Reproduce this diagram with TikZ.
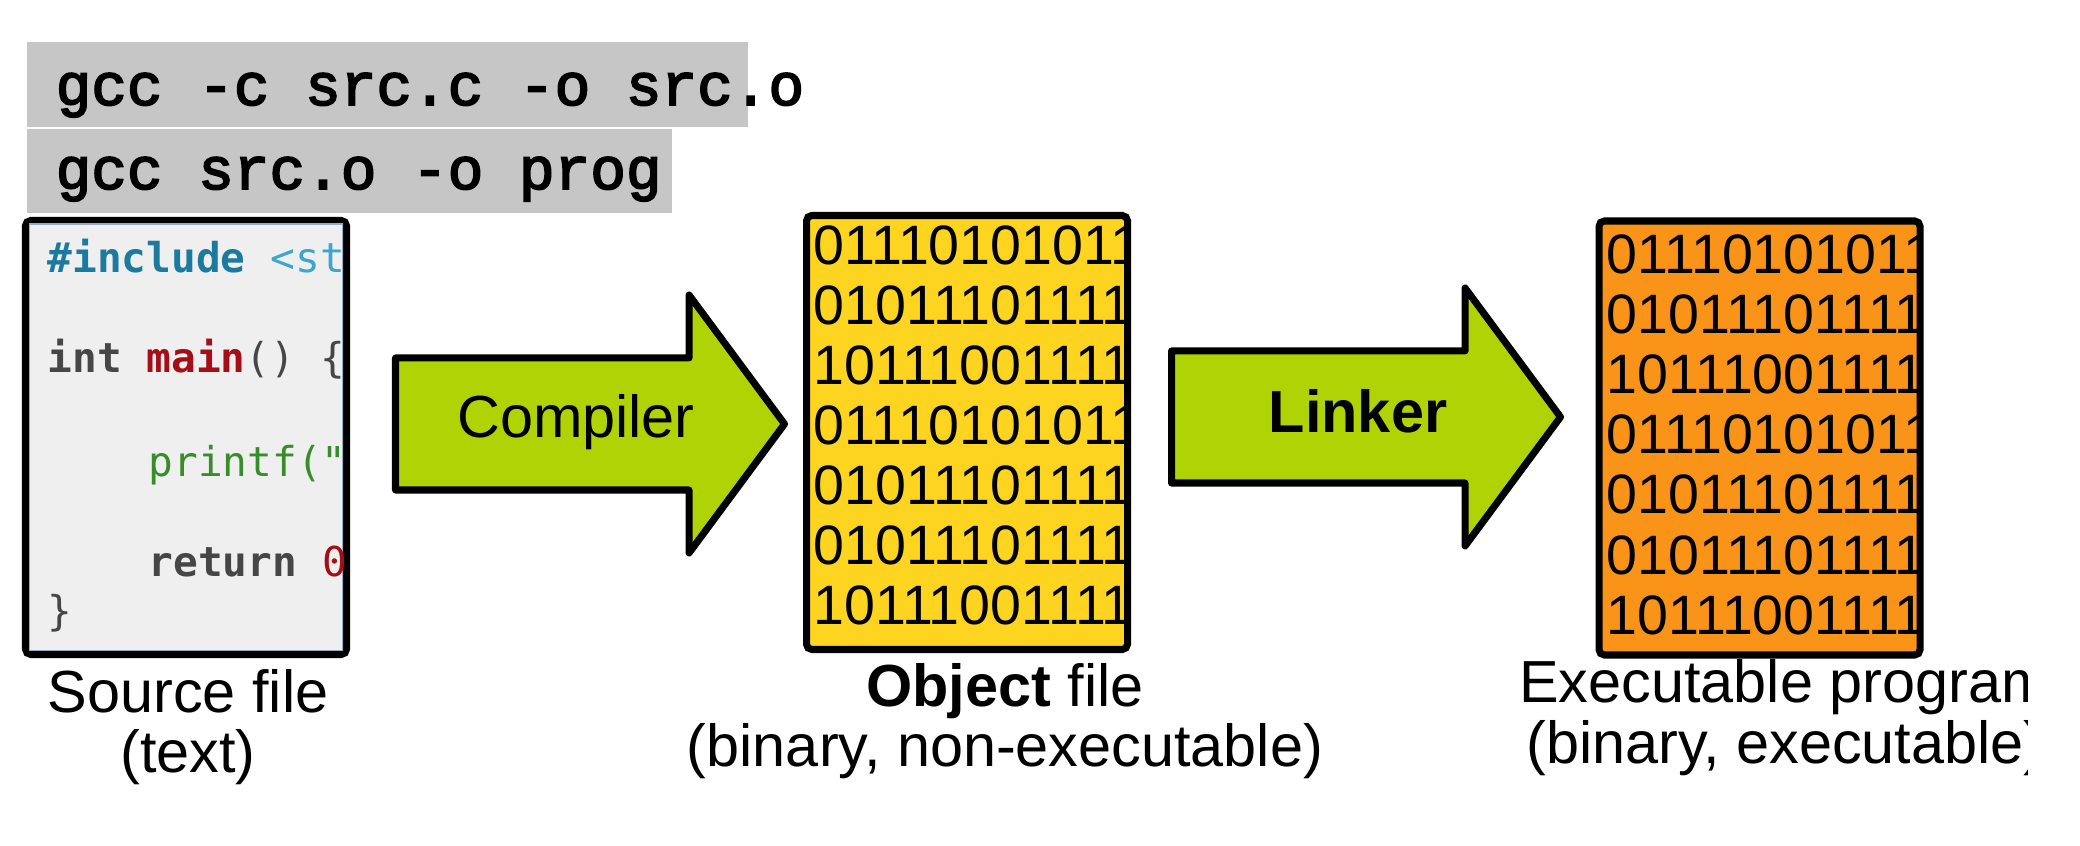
\documentclass[tikz,border=0pt]{standalone}
\usepackage{fontspec}
\setmainfont{Liberation Sans}
\newfontface\cmdfont[FakeBold=3]{Liberation Mono}
\newfontfamily\srcfont{DejaVu Sans Mono}
\usetikzlibrary{shapes.arrows}

\definecolor{cmdgrey}{RGB}{198,198,198}
\definecolor{lime}{RGB}{176,211,6}
\definecolor{objyellow}{RGB}{253,213,33}
\definecolor{exeorange}{RGB}{250,148,25}
\definecolor{codebg}{RGB}{239,239,239}
\definecolor{codeedge}{RGB}{150,172,198}
\definecolor{kwteal}{RGB}{28,122,158}
\definecolor{inclblue}{RGB}{62,165,205}
\definecolor{fnred}{RGB}{165,14,22}
\definecolor{strgreen}{RGB}{56,140,42}
\definecolor{plaingrey}{RGB}{70,70,70}

\begin{document}
\begin{tikzpicture}[x=0.1mm, y=-0.1mm,
  cmdbox/.style = {rectangle, fill=cmdgrey, inner sep=0pt, outer sep=0pt, anchor=north west},
 cmdtext/.style = {inner sep=0pt, anchor=base west,
                   font=\cmdfont\fontsize{16.9}{17}\selectfont},
    file/.style = {rectangle, draw, line width=2pt, rounded corners=1.5pt,
                   minimum width=32.1mm, minimum height=43.4mm, inner sep=0pt, outer sep=0pt},
codeline/.style = {inner sep=0pt, anchor=base west, text=plaingrey,
                   font=\srcfont\fontsize{11.7}{12}\selectfont},
    bits/.style = {inner sep=0pt, anchor=base west, font=\fontsize{15.8}{16}\selectfont},
blockarrow/.style = {single arrow, draw, fill=lime, line width=2pt, line join=round,
                   minimum height=38.9mm, inner xsep=0pt, inner ysep=6.25mm, outer sep=0pt,
                   single arrow head extend=6.3mm, single arrow tip angle=107, anchor=tail},
 arrowtext/.style = {inner sep=0pt, anchor=base, font=\fontsize{16.9}{17}\selectfont},
 caption/.style = {inner sep=0pt, anchor=base, align=center,
                   font=\fontsize{16.9}{17.1}\selectfont}
                    ]
\useasboundingbox (0,0) rectangle (2080,846);

% commands
\node (cmdbgA) [cmdbox, minimum width=72.1mm, minimum height=8.5mm] at (27,42) {};
\node (cmdbgB) [cmdbox, minimum width=64.5mm, minimum height=8.4mm] at (27,129) {};
\node (cmdA) [cmdtext] at (55,105) {gcc -c src.c -o src.o};
\node (cmdB) [cmdtext] at (55,189) {gcc src.o -o prog};

% source file
\node (src) [file, fill=codebg] at (186,437.5) {};
\begin{scope}
  \clip ([shift={(3.5,3.5)}]src.north west) rectangle ([shift={(-3.5,-3.5)}]src.south east);
  \draw [codeedge, line width=0.6pt] ([shift={(3.8,3.8)}]src.north west) rectangle ([shift={(-3.8,-3.8)}]src.south east);
  \node (inc) [codeline] at (47,273) {\textcolor{kwteal}{\bfseries\#include} \textcolor{inclblue}{<st}};
  \node (mainfn) [codeline] at (47,373) {{\bfseries int} \textcolor{fnred}{\bfseries main}() \{};
  \node (prn) [codeline] at (148,477) {\textcolor{strgreen}{printf("}};
  \node (ret) [codeline] at (148,577) {{\bfseries return} \textcolor{fnred}{0}};
  \node (close) [codeline] at (47,626) {\}};
\end{scope}
\node (srclabel) [caption] at (188,773) {Source file\\(text)};

% compiler and linker
\node (compile) [blockarrow] at (395.5,424) {};
\node (compiletext) [arrowtext] at (576,438) {Compiler};
\node (link) [blockarrow] at (1171.5,417) {};
\node (linktext) [arrowtext, font=\bfseries\fontsize{16.9}{17}\selectfont] at (1358,433) {Linker};

% object file
\node (obj) [file, fill=objyellow] at (967,432.5) {};
\begin{scope}
  \clip ([shift={(3.5,3.5)}]obj.north west) rectangle ([shift={(-3.5,-3.5)}]obj.south east);
  \foreach \row [count=\i] in {01110101011,01011101111,10111001111,01110101011,01011101111,01011101111,10111001111}
    \node [bits] at (813,{205+60*\i}) {\row};
\end{scope}
\node (objlabel) [caption] at (1005,767) {\textbf{Object} file\\(binary, non-executable)};

% executable
\node (exe) [file, fill=exeorange] at (1759.5,438) {};
\begin{scope}
  \clip ([shift={(3.5,3.5)}]exe.north west) rectangle ([shift={(-3.5,-3.5)}]exe.south east);
  \foreach \row [count=\i] in {01110101011,01011101111,10111001111,01110101011,01011101111,01011101111,10111001111}
    \node [bits] at (1606,{213+60.2*\i}) {\row};
\end{scope}
\begin{scope}
  \clip (1400,655) rectangle (2027,846);
  \node (exelabel) [caption] at (1785,763) {Executable program\\(binary, executable)};
\end{scope}
\end{tikzpicture}
\end{document}
